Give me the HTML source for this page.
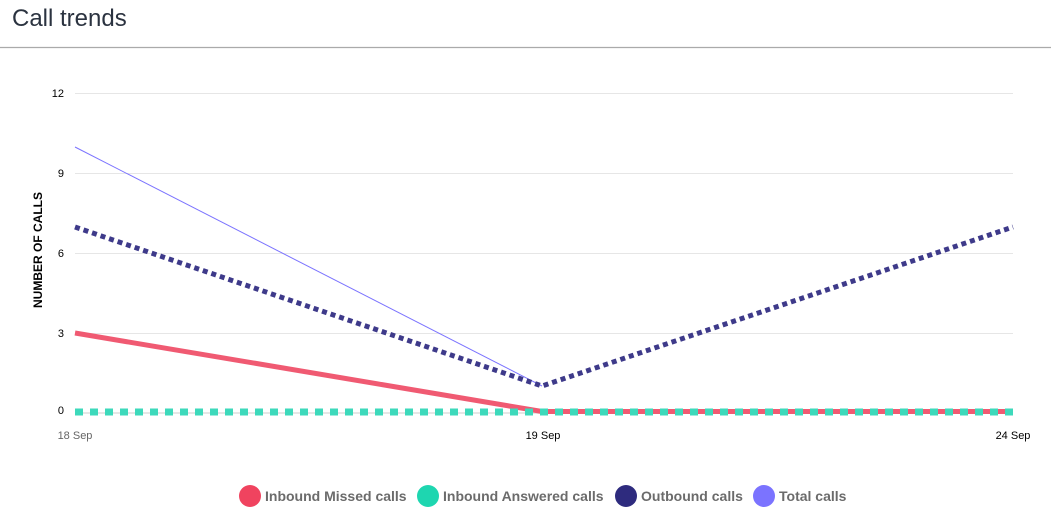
<!DOCTYPE html><html><head><style>body{margin:0;background:#fff;width:1051px;height:516px;overflow:hidden;font-family:"Liberation Sans",sans-serif}</style></head><body>
<svg width="1051" height="516" xmlns="http://www.w3.org/2000/svg" style="position:absolute;left:0;top:0">
<text x="12" y="26" font-size="24" fill="#2b3340" font-family="Liberation Sans,sans-serif">Call trends</text>
<line x1="0" y1="47.5" x2="1051" y2="47.5" stroke="#aaa" stroke-width="1.2"/>
<g stroke="#e6e6e6" stroke-width="1">
<line x1="75" y1="93.5" x2="1013" y2="93.5"/><line x1="75" y1="173.5" x2="1013" y2="173.5"/><line x1="75" y1="253.5" x2="1013" y2="253.5"/><line x1="75" y1="333.5" x2="1013" y2="333.5"/><line x1="75" y1="413" x2="1013" y2="413" stroke-width="2"/>
</g>
<g font-size="11" fill="#000" text-anchor="end">
<text x="64" y="97">12</text><text x="64" y="177">9</text><text x="64" y="257">6</text><text x="64" y="337">3</text><text x="64" y="414">0</text>
</g>
<text transform="translate(42,250) rotate(-90)" font-size="12" font-weight="bold" text-anchor="middle" fill="#000">NUMBER OF CALLS</text>
<g font-size="11" text-anchor="middle">
<text x="75" y="439" fill="#666">18 Sep</text><text x="543" y="439" fill="#000">19 Sep</text><text x="1013" y="439" fill="#000">24 Sep</text>
</g>
<polyline points="75,147 542,386" fill="none" stroke="#7b73ff" stroke-width="1"/>
<polyline points="75,333 542,411.5 1013,411.5" fill="none" stroke="#f05a72" stroke-width="5"/>
<polyline points="75,227 542,386 1013,227" fill="none" stroke="#3e3a8a" stroke-width="5" stroke-dasharray="5,4"/>
<line x1="75" y1="412" x2="1013" y2="412" stroke="#3dd9bb" stroke-width="7" stroke-dasharray="8,7"/>
<g font-size="14" font-weight="bold" fill="#6b6b6b">
<circle cx="250" cy="496" r="11" fill="#f0435f"/><text x="265" y="501">Inbound Missed calls</text>
<circle cx="428" cy="496" r="11" fill="#1ed6b0"/><text x="443" y="501">Inbound Answered calls</text>
<circle cx="626" cy="496" r="11" fill="#2e2b7e"/><text x="641" y="501">Outbound calls</text>
<circle cx="764" cy="496" r="11" fill="#7b73ff"/><text x="779" y="501">Total calls</text>
</g>
</svg></body></html>
